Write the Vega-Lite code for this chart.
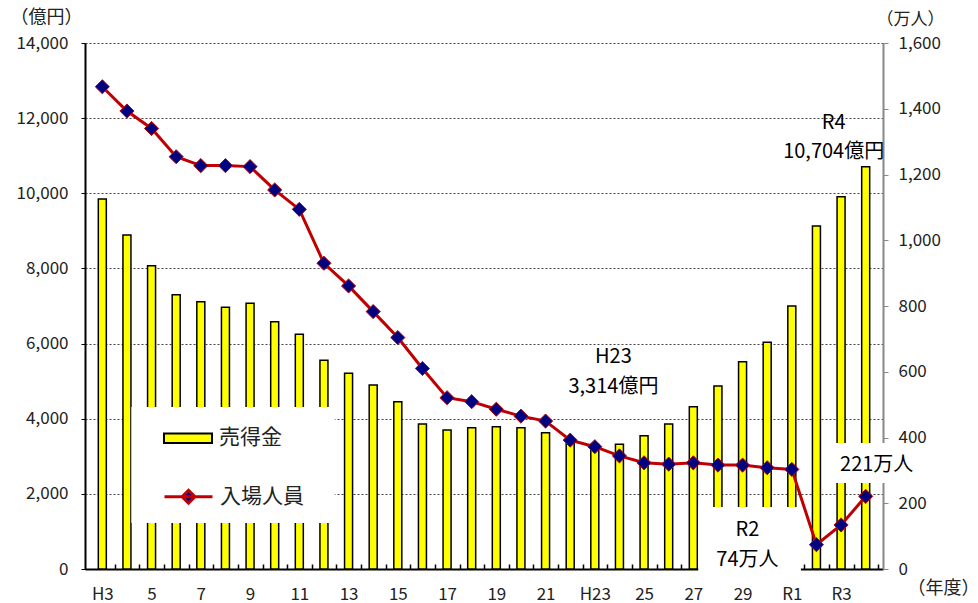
{
  "$schema": "https://vega.github.io/schema/vega-lite/v6.json",
  "width": 798,
  "height": 526,
  "autosize": "none",
  "padding": {"left": 85, "top": 43, "right": 95, "bottom": 34},
  "background": "white",
  "config": {
    "font": "Noto Sans CJK JP",
    "view": {"stroke": null},
    "axis": {"labelFont": "Noto Sans CJK JP", "titleFont": "Noto Sans CJK JP", "titleFontWeight": "normal", "labelColor": "#222", "titleColor": "#222"},
    "legend": {"labelFont": "Noto Sans CJK JP", "labelFontSize": 21, "labelColor": "#222"}
  },
  "data": {
    "values": [
      {"i": 0, "year": "H3", "sales": 9850, "visitors": 1467},
      {"i": 1, "year": "H4", "sales": 8890, "visitors": 1393},
      {"i": 2, "year": "H5", "sales": 8073, "visitors": 1340},
      {"i": 3, "year": "H6", "sales": 7302, "visitors": 1254},
      {"i": 4, "year": "H7", "sales": 7115, "visitors": 1227},
      {"i": 5, "year": "H8", "sales": 6966, "visitors": 1227},
      {"i": 6, "year": "H9", "sales": 7072, "visitors": 1224},
      {"i": 7, "year": "H10", "sales": 6583, "visitors": 1153},
      {"i": 8, "year": "H11", "sales": 6246, "visitors": 1094},
      {"i": 9, "year": "H12", "sales": 5554, "visitors": 930},
      {"i": 10, "year": "H13", "sales": 5208, "visitors": 861},
      {"i": 11, "year": "H14", "sales": 4897, "visitors": 783},
      {"i": 12, "year": "H15", "sales": 4454, "visitors": 704},
      {"i": 13, "year": "H16", "sales": 3859, "visitors": 610},
      {"i": 14, "year": "H17", "sales": 3700, "visitors": 521},
      {"i": 15, "year": "H18", "sales": 3762, "visitors": 509},
      {"i": 16, "year": "H19", "sales": 3788, "visitors": 486},
      {"i": 17, "year": "H20", "sales": 3762, "visitors": 465},
      {"i": 18, "year": "H21", "sales": 3629, "visitors": 450},
      {"i": 19, "year": "H22", "sales": 3380, "visitors": 392},
      {"i": 20, "year": "H23", "sales": 3314, "visitors": 372},
      {"i": 21, "year": "H24", "sales": 3320, "visitors": 344},
      {"i": 22, "year": "H25", "sales": 3549, "visitors": 323},
      {"i": 23, "year": "H26", "sales": 3859, "visitors": 319},
      {"i": 24, "year": "H27", "sales": 4321, "visitors": 323},
      {"i": 25, "year": "H28", "sales": 4871, "visitors": 316},
      {"i": 26, "year": "H29", "sales": 5519, "visitors": 316},
      {"i": 27, "year": "H30", "sales": 6033, "visitors": 308},
      {"i": 28, "year": "R1", "sales": 7000, "visitors": 303},
      {"i": 29, "year": "R2", "sales": 9130, "visitors": 74},
      {"i": 30, "year": "R3", "sales": 9910, "visitors": 134},
      {"i": 31, "year": "R4", "sales": 10704, "visitors": 221}
    ]
  },
  "encoding": {
    "x": {
      "field": "i",
      "type": "quantitative",
      "scale": {"domain": [-0.5, 31.5], "nice": false, "zero": false},
      "axis": {
        "values": [0,1,2,3,4,5,6,7,8,9,10,11,12,13,14,15,16,17,18,19,20,21,22,23,24,25,26,27,28,29,30,31],
        "labelExpr": "datum.value % 2 == 0 ? ['H3','5','7','9','11','13','15','17','19','21','H23','25','27','29','R1','R3'][datum.value / 2] : ''",
        "tickOffset": 12.47,
        "labelOffset": -12.47,
        "tickSize": -5,
        "tickColor": "black",
        "tickWidth": 1.5,
        "domainColor": "black",
        "domainWidth": 2,
        "labelFontSize": 17,
        "labelPadding": 22,
        "labelOverlap": false,
        "labelFlush": false,
        "grid": false,
        "title": "（年度）",
        "titleFontSize": 18,
        "titleAngle": 0,
        "titleX": 858,
        "titleY": 19,
        "titleAlign": "center",
        "titleBaseline": "middle"
      }
    }
  },
  "layer": [
    {
      "layer": [
        {
          "mark": {"type": "bar", "size": 8, "stroke": "black", "strokeWidth": 1.5},
          "encoding": {
            "y": {
              "field": "sales",
              "type": "quantitative",
              "scale": {"domain": [0, 14000], "nice": false},
              "axis": {
                "orient": "left",
                "values": [0, 2000, 4000, 6000, 8000, 10000, 12000, 14000],
                "format": ",.0f",
                "grid": true,
                "gridDash": [2, 2],
                "gridColor": "#444",
                "gridWidth": 1,
                "tickSize": 4,
                "tickColor": "black",
                "domainColor": "black",
                "domainWidth": 2,
                "labelPadding": 13,
                "labelFontSize": 17,
                "title": "（億円）",
                "titleFontSize": 18,
                "titleAngle": 0,
                "titleX": -39,
                "titleY": -26,
                "titleAlign": "center",
                "titleBaseline": "middle"
              }
            },
            "fill": {
              "datum": "売得金",
              "type": "nominal",
              "scale": {"domain": ["売得金"], "range": ["#FFFF00"]},
              "legend": {
                "orient": "none",
                "legendX": 42,
                "legendY": 365,
                "title": null,
                "padding": 5.25,
                "symbolSize": 2304,
                "symbolType": "M-1,-0.2H1V0.2H-1Z",
                "symbolFillColor": "#FFFF00",
                "symbolStrokeColor": "black",
                "symbolStrokeWidth": 2,
                "symbolOffset": 30.75,
                "labelOffset": 6
              }
            }
          }
        },
        {
          "transform": [{"filter": "datum.i == 0"}],
          "mark": {"type": "rect", "fill": "white", "strokeWidth": 0},
          "encoding": {
            "x": {"datum": 1.18, "type": "quantitative"},
            "x2": {"datum": 9.44},
            "y": {"datum": 4312, "type": "quantitative"},
            "y2": {"datum": 1224}
          }
        },
        {
          "transform": [{"filter": "datum.i == 0"}],
          "mark": {"type": "rect", "fill": "white", "strokeWidth": 0},
          "encoding": {
            "x": {"datum": 24.2, "type": "quantitative"},
            "x2": {"datum": 28.37},
            "y": {"datum": 1650, "type": "quantitative"},
            "y2": {"datum": -250}
          }
        },
        {
          "transform": [{"filter": "datum.i == 0"}],
          "mark": {"type": "rect", "fill": "white", "strokeWidth": 0},
          "encoding": {
            "x": {"datum": 29.57, "type": "quantitative"},
            "x2": {"datum": 31.9},
            "y": {"datum": 3354, "type": "quantitative"},
            "y2": {"datum": 2289}
          }
        },
        {
          "transform": [{"filter": "datum.i == 31"}],
          "mark": {"type": "text", "text": ["R4", "10,704億円"], "fontSize": 20, "lineHeight": 29, "align": "center", "baseline": "middle", "dx": -32, "dy": -44, "color": "black"},
          "encoding": {"y": {"field": "sales", "type": "quantitative"}}
        },
        {
          "transform": [{"filter": "datum.i == 20"}],
          "mark": {"type": "text", "text": ["H23", "3,314億円"], "fontSize": 20, "lineHeight": 30, "align": "center", "baseline": "middle", "dx": 18.6, "dy": -87.5, "color": "black"},
          "encoding": {"y": {"field": "sales", "type": "quantitative"}}
        }
      ]
    },
    {
      "layer": [
        {
          "mark": {"type": "line", "color": "#C00000", "strokeWidth": 3},
          "encoding": {
            "y": {
              "field": "visitors",
              "type": "quantitative",
              "scale": {"domain": [0, 1600], "nice": false},
              "axis": {
                "orient": "right",
                "values": [0, 200, 400, 600, 800, 1000, 1200, 1400, 1600],
                "format": ",.0f",
                "grid": false,
                "tickSize": 5,
                "tickColor": "#888",
                "domainColor": "#888",
                "domainWidth": 2,
                "labelPadding": 10,
                "labelFontSize": 17,
                "title": "（万人）",
                "titleFontSize": 17,
                "titleAngle": 0,
                "titleX": 27,
                "titleY": -24,
                "titleAlign": "center",
                "titleBaseline": "middle"
              }
            }
          }
        },
        {
          "mark": {"type": "point", "shape": "diamond", "filled": true, "size": 200, "stroke": "#C00000", "strokeWidth": 1, "opacity": 1},
          "encoding": {
            "y": {"field": "visitors", "type": "quantitative"},
            "fill": {
              "datum": "入場人員",
              "type": "nominal",
              "scale": {"domain": ["入場人員"], "range": ["#000080"]},
              "legend": {
                "orient": "none",
                "legendX": 42,
                "legendY": 423,
                "title": null,
                "padding": 5.25,
                "symbolSize": 2304,
                "symbolType": "M-1,0H1M0,-0.27L0.27,0L0,0.27L-0.27,0Z",
                "symbolFillColor": "#000080",
                "symbolStrokeColor": "#C00000",
                "symbolStrokeWidth": 3,
                "symbolOffset": 30.75,
                "labelOffset": 6
              }
            }
          }
        },
        {
          "transform": [{"filter": "datum.i == 29"}],
          "mark": {"type": "text", "text": ["R2", "74万人"], "fontSize": 20, "lineHeight": 30, "align": "center", "baseline": "middle", "dx": -69, "dy": -15, "color": "black"},
          "encoding": {"y": {"field": "visitors", "type": "quantitative"}}
        },
        {
          "transform": [{"filter": "datum.i == 31"}],
          "mark": {"type": "text", "text": "221万人", "fontSize": 20, "align": "center", "baseline": "middle", "dx": 11, "dy": -31, "color": "black"},
          "encoding": {"y": {"field": "visitors", "type": "quantitative"}}
        }
      ]
    }
  ],
  "resolve": {"scale": {"y": "independent", "fill": "independent"}, "legend": {"fill": "independent"}}
}
